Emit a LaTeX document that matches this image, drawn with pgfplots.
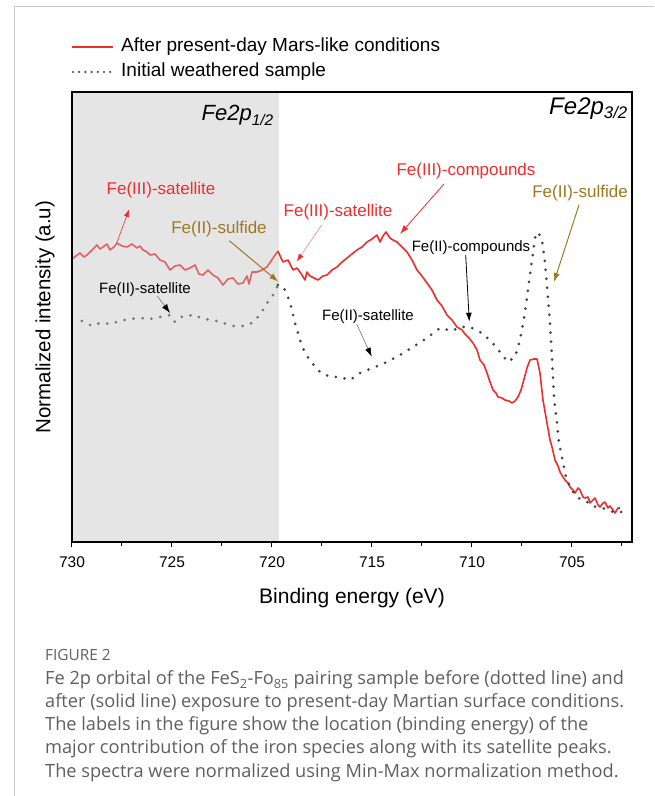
\documentclass[border=0pt]{standalone}
\usepackage{pgfplots}
\pgfplotsset{compat=1.18}
\usepackage{fontspec}
\setmainfont{Liberation Sans}
\newfontfamily\capfont{Open Sans}
\usetikzlibrary{arrows.meta}
\definecolor{myred}{RGB}{238,45,45}
\definecolor{myredlight}{RGB}{224,98,98}
\definecolor{dotgray}{RGB}{68,68,68}
\definecolor{dotgraylight}{RGB}{118,118,118}
\definecolor{sulf}{RGB}{158,120,32}
\definecolor{bandgray}{RGB}{229,229,229}
\definecolor{capgray}{RGB}{95,95,95}
\definecolor{framegray}{RGB}{200,200,200}
\begin{document}
\begin{tikzpicture}
\useasboundingbox (0pt,0pt) rectangle (654pt,796pt);
\draw[framegray, line width=1pt] (14pt,0pt) -- (14pt,789pt) -- (654pt,789pt);
\begin{axis}[at={(352pt,479pt)}, anchor=center, scale only axis,
  width=560pt, height=450pt,
  xmin=702, xmax=730, x dir=reverse, ymin=0, ymax=450,
  xtick={705,710,...,730}, minor xtick={702.5,707.5,...,727.5}, ytick=\empty,
  xtick pos=lower, tick align=outside,
  major tick length=5pt, minor tick length=4pt,
  axis line style={line width=1.2pt},
  every tick/.style={line width=1pt, black},
  /pgf/number format/assume math mode=true,
  xticklabel style={font=\fontsize{15.5}{18}\selectfont, yshift=-6pt},
  xlabel={Binding energy (eV)},
  xlabel style={font=\fontsize{21}{24}\selectfont, at={(axis description cs:0.5,-0.1244)}, anchor=center},
  ylabel={Normalized intensity (a.u)},
  ylabel style={font=\fontsize{20.5}{24}\selectfont, at={(axis description cs:-0.048,0.5)}, anchor=center},
  axis on top]
\fill[bandgray] (axis cs:730,0) rectangle (axis cs:719.67,450);
% after exposure, part inside the Fe2p1/2 band
\addplot[myredlight, line width=1.6pt, line join=round] coordinates {
(730.00,283)(729.80,286)(729.60,289)(729.40,285)(729.25,287)(729.00,292)(728.75,297)(728.60,293)(728.45,295)(728.25,298)(728.10,292)(727.90,295)(727.75,299)(727.50,296)(727.25,295)(727.00,298)(726.75,294)(726.60,296)(726.45,292)(726.25,290)(726.10,287)(725.85,288)(725.60,282)(725.35,280)(725.10,272)(724.85,276)(724.60,277)(724.35,272)(724.10,274)(723.85,277)(723.65,268)(723.45,267)(723.20,272)(722.95,267)(722.70,264)(722.45,257)(722.20,263)(721.95,264)(721.70,258)(721.45,259)(721.25,266)(721.15,258)(721.00,270)(720.75,270)(720.50,272)(720.25,275)(719.95,284)(719.70,291)
};
% after exposure, Fe2p3/2 side
\addplot[myred, line width=1.6pt, line join=round] coordinates {
(719.70,291)(719.55,284)(719.45,280)(719.20,282)(718.95,272)(718.75,274)(718.60,270)(718.35,262)(718.25,270)(718.10,266)(717.90,264)(717.70,262)(717.45,266)(717.25,267)(717.00,272)(716.75,275)(716.50,280)(716.25,284)(716.00,288)(715.75,292)(715.50,295)(715.25,300)(715.00,303)(714.75,307)(714.60,300)(714.45,306)(714.30,310)(714.10,304)(713.95,302)(713.75,300)(713.60,297)(713.25,290)(713.00,282)(712.75,272)(712.50,266)(712.25,259)(712.00,252)(711.75,242)(711.50,236)(711.25,227)(711.00,222)(710.75,215)(710.50,212)(710.35,208)(710.15,204)(709.95,199)(709.75,192)(709.60,182)(709.40,177)(709.25,169)(709.10,160)(708.95,152)(708.80,149)(708.70,145)(708.50,144)(708.35,142)(708.15,141)(708.00,139)(707.85,141)(707.70,145)(707.55,152)(707.45,159)(707.25,174)(707.10,182)(706.90,183)(706.75,183)(706.60,169)(706.45,142)(706.25,119)(706.10,102)(706.00,95)(705.85,82)(705.70,76)(705.60,70)(705.45,65)(705.35,62)(705.20,59)(705.10,55)(704.95,52)(704.85,49)(704.70,54)(704.60,52)(704.45,45)(704.35,44)(704.20,45)(704.10,39)(703.95,42)(703.85,44)(703.70,37)(703.60,35)(703.45,39)(703.35,40)(703.20,34)(703.10,36)(702.95,32)(702.85,29)(702.70,34)(702.60,34)
};
% initial sample, inside the band
\addplot[dotgraylight, line width=3pt, line cap=round, dash pattern=on 0pt off 9pt] coordinates {
(729.50,221)(729.00,216)(728.60,219)(728.10,218)(727.60,221)(727.10,223)(726.60,224)(726.10,223)(725.60,225)(725.10,227)(724.85,220)(724.45,226)(723.85,227)(723.45,223)(722.95,222)(722.45,219)(721.95,216)(721.45,216)(721.00,219)(720.60,227)(720.25,239)(720.00,245)(719.70,257)
};
% initial sample, Fe2p3/2 side
\addplot[dotgray, line width=3pt, line cap=round, dash pattern=on 0pt off 9pt] coordinates {
(719.70,257)(719.45,256)(719.20,245)(719.00,232)(718.85,219)(718.60,202)(718.35,189)(718.00,179)(717.60,170)(717.10,165)(716.60,165)(716.10,162)(715.60,169)(714.95,174)(714.25,180)(713.60,187)(712.95,195)(712.25,204)(711.60,214)(711.00,211)(710.60,215)(710.10,215)(709.60,210)(709.10,202)(708.60,190)(708.20,180)(707.85,185)(707.60,202)(707.35,229)(707.20,252)(707.00,282)(706.85,304)(706.70,310)(706.50,302)(706.35,280)(706.25,255)(706.10,219)(706.00,185)(705.90,145)(705.85,135)(705.75,119)(705.65,99)(705.45,80)(705.30,65)(705.10,55)(704.85,47)(704.60,43)(704.25,40)(703.95,36)(703.60,34)(703.25,33)(702.95,30)(702.50,30)
};
\end{axis}
\begin{scope}[x=1pt,y=1pt]
% legend
\draw[myred, line width=1.8pt] (72,749) -- (113,749);
\node[anchor=west, font=\fontsize{19}{22}\selectfont, inner sep=0pt] at (121,749) {After present-day Mars-like conditions};
\draw[dotgray, line width=2.4pt, line cap=round, dash pattern=on 0pt off 6.2pt] (73,724) -- (112,724);
\node[anchor=west, font=\fontsize{19}{22}\selectfont, inner sep=0pt] at (121,724) {Initial weathered sample};
% panel titles
\node[anchor=base east, inner sep=0pt, font=\fontsize{22}{24}\selectfont\itshape] at (274,675) {Fe2p\textsubscript{1/2}};
\node[anchor=base east, inner sep=0pt, font=\fontsize{24}{26}\selectfont\itshape] at (628,681) {Fe2p\textsubscript{3/2}};
% annotations
\node[myred, font=\fontsize{17}{20}\selectfont, inner sep=0pt] at (161,606) {Fe(III)-satellite};
\draw[myred, line width=0.6pt, -{Latex[length=8pt,width=5.5pt]}] (116.7,553) -- (129.3,587);
\node[sulf, font=\fontsize{17}{20}\selectfont, inner sep=0pt] at (219,567) {Fe(II)-sulfide};
\draw[sulf, line width=1pt, -{Latex[length=9pt,width=6pt]}] (229.3,555.3) -- (278.3,514.3);
\node[black, font=\fontsize{15}{18}\selectfont, inner sep=0pt] at (145,506) {Fe(II)-satellite};
\draw[black!60, line width=0.5pt, -{Latex[length=9pt,width=6pt,black]}] (157.3,500) -- (170,483);
\node[myred, font=\fontsize{17}{20}\selectfont, inner sep=0pt] at (338,584) {Fe(III)-satellite};
\draw[myred!60, line width=0.6pt, -{Latex[length=8pt,width=5.5pt,myred]}] (321.7,571) -- (296.7,534.3);
\node[myred, font=\fontsize{17}{20}\selectfont, inner sep=0pt] at (466,625) {Fe(III)-compounds};
\draw[myred, line width=0.8pt, -{Latex[length=9pt,width=6pt]}] (444,612) -- (400,562);
\node[sulf, font=\fontsize{17}{20}\selectfont, inner sep=0pt] at (580,603) {Fe(II)-sulfide};
\draw[sulf, line width=1pt, -{Latex[length=9pt,width=6pt]}] (579,591) -- (554,514);
\node[black, font=\fontsize{15}{18}\selectfont, inner sep=0pt] at (471,548) {Fe(II)-compounds};
\draw[black, line width=0.8pt, -{Latex[length=9pt,width=6pt]}] (465.7,541) -- (469.3,474.3);
\node[black, font=\fontsize{15}{18}\selectfont, inner sep=0pt] at (368,479) {Fe(II)-satellite};
\draw[black!60, line width=0.5pt, -{Latex[length=9pt,width=6pt,black]}] (356.7,472) -- (371.7,439.3);
% caption
\node[anchor=base west, inner sep=0pt, capgray, font=\capfont\fontsize{15.4}{18}\selectfont] at (45,135) {FIGURE 2};
\begin{scope}[every node/.style={anchor=base west, inner sep=0pt, capgray, font=\capfont\fontsize{18.2}{22}\selectfont}]
\node at (45,111) {Fe 2p orbital of the FeS\textsubscript{2}-Fo\textsubscript{85} pairing sample before (dotted line) and};
\node at (45,88) {after (solid line) exposure to present-day Martian surface conditions.};
\node at (45,65) {The labels in the figure show the location (binding energy) of the};
\node at (45,42) {major contribution of the iron species along with its satellite peaks.};
\node at (45,19) {The spectra were normalized using Min-Max normalization method.};
\end{scope}
\end{scope}
\end{tikzpicture}
\end{document}
